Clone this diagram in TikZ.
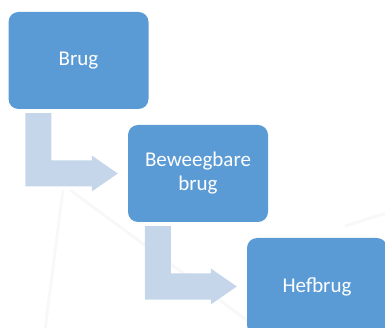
\documentclass[tikz,border=0pt]{standalone}
\usepackage{fontspec}
\setmainfont{Carlito}
\usetikzlibrary{calc}
\definecolor{boxblue}{HTML}{5B9BD5}
\definecolor{arrowblue}{HTML}{C5D5EA}
\definecolor{faint}{HTML}{F8F8F8}
\begin{document}
\begin{tikzpicture}[x=1pt,y=1pt,
  stepbox/.style={fill=boxblue, rounded corners=10pt, minimum width=140pt, minimum height=97pt,
    text=white, align=center, inner sep=0pt, font=\fontsize{21pt}{24pt}\selectfont},
  bentarrow/.style={fill=arrowblue},
  faintline/.style={draw=faint, line width=3pt}]
\useasboundingbox (0,0) rectangle (385,-328);
\clip (0,0) rectangle (385,-328);
% faint background lines
\draw[faintline] (63,-190) -- (45,-330);
\draw[faintline] (70,-190) -- (260,-330);
\draw[faintline] (345,-226) -- (390,-212);
% boxes
\node[stepbox] (b1) at (78.5,-60.5) {Brug};
\node[stepbox] (b2) at (198,-173.5) {Beweegbare\\brug};
\node[stepbox] (b3) at (317,-286.5) {Hefbrug};
% bent arrows
\foreach \a/\b in {b1/b2, b2/b3}{
  \fill[bentarrow] let \p1=(\a.south west), \p2=(\b.west) in
    (\x1+17pt,\y1-4pt) -- (\x1+43pt,\y1-4pt) -- (\x1+43pt,\y2+13pt) --
    (\x2-36pt,\y2+13pt) -- (\x2-36pt,\y2+18pt) -- (\x2-10pt,\y2) --
    (\x2-36pt,\y2-18pt) -- (\x2-36pt,\y2-13pt) -- (\x1+17pt,\y2-13pt) -- cycle;
}
\end{tikzpicture}
\end{document}
